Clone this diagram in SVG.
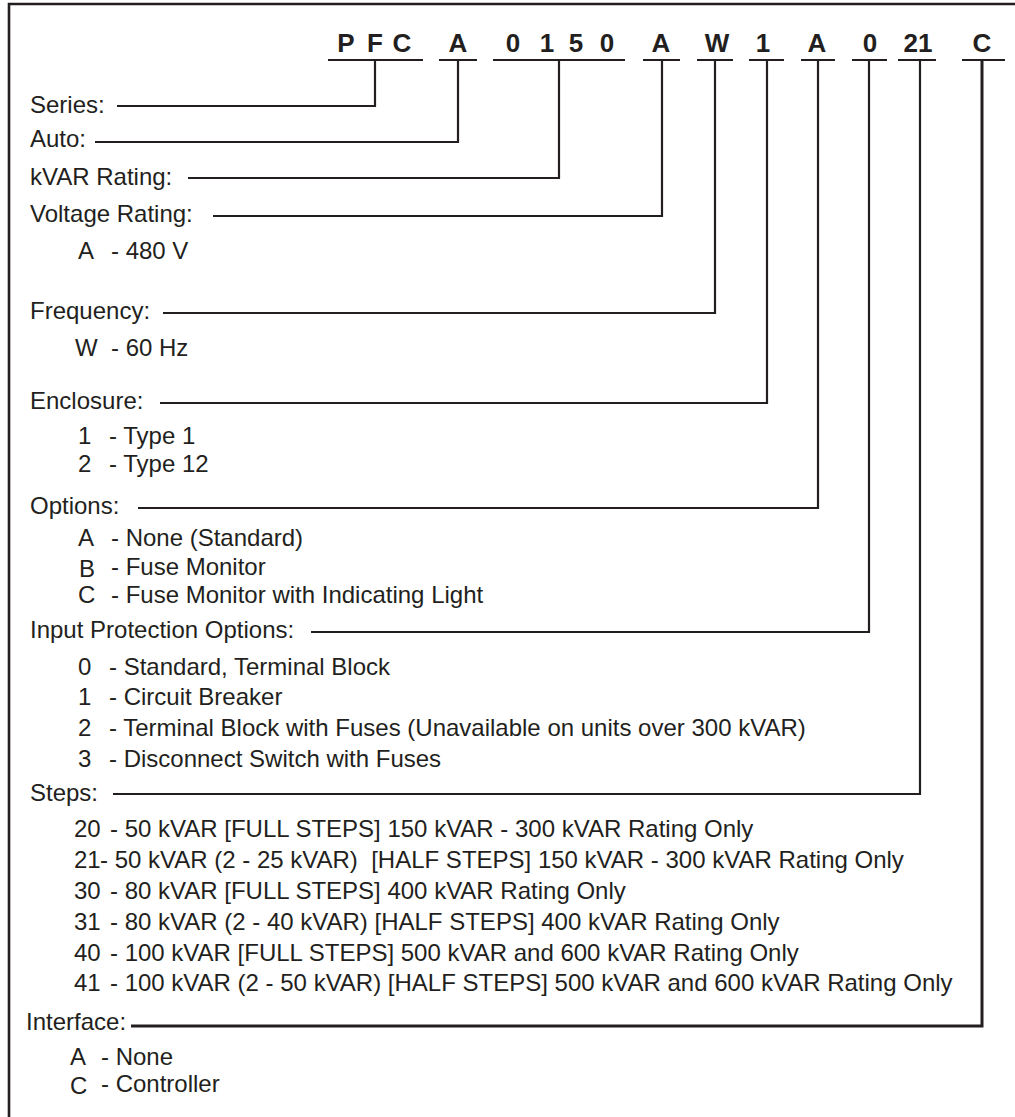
<svg xmlns="http://www.w3.org/2000/svg" width="1015" height="1117" viewBox="0 0 1015 1117">
<style>
.t{font-family:"Liberation Sans",Arial,sans-serif;font-size:24px;fill:#231f20;white-space:pre}
.h{font-family:"Liberation Sans",Arial,sans-serif;font-size:26px;font-weight:bold;fill:#231f20;text-anchor:middle}
.ln{stroke:#231f20;stroke-width:2.2;fill:none}
.bd{stroke:#231f20;stroke-width:2.6;fill:none}
</style>
<rect width="1015" height="1117" fill="#fff"/>
<path class="bd" d="M1015,4 H9 V1117"/>

<g id="code">
  <g id="c-pfc"><text class="h" x="346" y="52">P</text><text class="h" x="375" y="52">F</text><text class="h" x="402" y="52">C</text><path class="ln" d="M328,60 H423"/></g>
  <g id="c-auto"><text class="h" x="458" y="52">A</text><path class="ln" d="M439,60 H477"/></g>
  <g id="c-kvar"><text class="h" x="513" y="52">0</text><text class="h" x="547" y="52">1</text><text class="h" x="576" y="52">5</text><text class="h" x="607" y="52">0</text><path class="ln" d="M493,60 H625"/></g>
  <g id="c-volt"><text class="h" x="661" y="52">A</text><path class="ln" d="M643,60 H680"/></g>
  <g id="c-freq"><text class="h" x="717" y="52">W</text><path class="ln" d="M697,60 H733"/></g>
  <g id="c-encl"><text class="h" x="763" y="52">1</text><path class="ln" d="M749,60 H784"/></g>
  <g id="c-opt"><text class="h" x="817" y="52">A</text><path class="ln" d="M801,60 H835"/></g>
  <g id="c-inp"><text class="h" x="870" y="52">0</text><path class="ln" d="M852,60 H887"/></g>
  <g id="c-steps"><text class="h" x="918" y="52">21</text><path class="ln" d="M898,60 H936"/></g>
  <g id="c-intf"><text class="h" x="982" y="52">C</text><path class="ln" d="M962,60 H1005"/></g>
</g>

<g id="connectors">
  <path class="ln" d="M117,106 H375 V60"/>
  <path class="ln" d="M95,142 H458 V60"/>
  <path class="ln" d="M188,178 H559 V60"/>
  <path class="ln" d="M213,216 H662 V60"/>
  <path class="ln" d="M163,313 H715 V60"/>
  <path class="ln" d="M160,403 H767 V60"/>
  <path class="ln" d="M138,508 H818 V60"/>
  <path class="ln" d="M311,632 H869 V60"/>
  <path class="ln" d="M113,794 H920 V60"/>
  <path class="ln" d="M131,1026 H982 V60" style="stroke-width:3"/>
</g>

<g id="series"><text class="t" x="30" y="113">Series:</text></g>
<g id="auto"><text class="t" x="30" y="147">Auto:</text></g>
<g id="kvar-rating"><text class="t" x="30" y="185">kVAR Rating:</text></g>
<g id="voltage-rating">
  <text class="t" x="30" y="222">Voltage Rating:</text>
  <text class="t" x="78" y="259">A</text><text class="t" x="111" y="259">- 480 V</text>
</g>
<g id="frequency">
  <text class="t" x="30" y="319">Frequency:</text>
  <text class="t" x="75" y="356">W</text><text class="t" x="111" y="356">- 60 Hz</text>
</g>
<g id="enclosure">
  <text class="t" x="30" y="409">Enclosure:</text>
  <text class="t" x="78" y="444">1</text><text class="t" x="109" y="444">- Type 1</text>
  <text class="t" x="78" y="472">2</text><text class="t" x="109" y="472">- Type 12</text>
</g>
<g id="options">
  <text class="t" x="30" y="514">Options:</text>
  <text class="t" x="78" y="546">A</text><text class="t" x="111" y="546">- None (Standard)</text>
  <text class="t" x="79" y="577">B</text><text class="t" x="111" y="575">- Fuse Monitor</text>
  <text class="t" x="78" y="603">C</text><text class="t" x="111" y="603">- Fuse Monitor with Indicating Light</text>
</g>
<g id="input-protection">
  <text class="t" x="30" y="638">Input Protection Options:</text>
  <text class="t" x="78" y="675">0</text><text class="t" x="109" y="675">- Standard, Terminal Block</text>
  <text class="t" x="78" y="705">1</text><text class="t" x="109" y="705">- Circuit Breaker</text>
  <text class="t" x="78" y="736">2</text><text class="t" x="109" y="736">- Terminal Block with Fuses (Unavailable on units over 300 kVAR)</text>
  <text class="t" x="78" y="767">3</text><text class="t" x="109" y="767">- Disconnect Switch with Fuses</text>
</g>
<g id="steps">
  <text class="t" x="30" y="801">Steps:</text>
  <text class="t" x="74" y="837">20</text><text class="t" x="110" y="837">- 50 kVAR [FULL STEPS] 150 kVAR - 300 kVAR Rating Only</text>
  <text class="t" x="74" y="868">21</text><text class="t" x="100" y="868">- 50 kVAR (2 - 25 kVAR)  [HALF STEPS] 150 kVAR - 300 kVAR Rating Only</text>
  <text class="t" x="74" y="899">30</text><text class="t" x="110" y="899">- 80 kVAR [FULL STEPS] 400 kVAR Rating Only</text>
  <text class="t" x="74" y="930">31</text><text class="t" x="110" y="930">- 80 kVAR (2 - 40 kVAR) [HALF STEPS] 400 kVAR Rating Only</text>
  <text class="t" x="74" y="961">40</text><text class="t" x="110" y="961">- 100 kVAR [FULL STEPS] 500 kVAR and 600 kVAR Rating Only</text>
  <text class="t" x="74" y="991">41</text><text class="t" x="110" y="991">- 100 kVAR (2 - 50 kVAR) [HALF STEPS] 500 kVAR and 600 kVAR Rating Only</text>
</g>
<g id="interface">
  <text class="t" x="26" y="1030">Interface:</text>
  <text class="t" x="70" y="1065">A</text><text class="t" x="101" y="1065">- None</text>
  <text class="t" x="70" y="1094">C</text><text class="t" x="101" y="1092">- Controller</text>
</g>
</svg>
